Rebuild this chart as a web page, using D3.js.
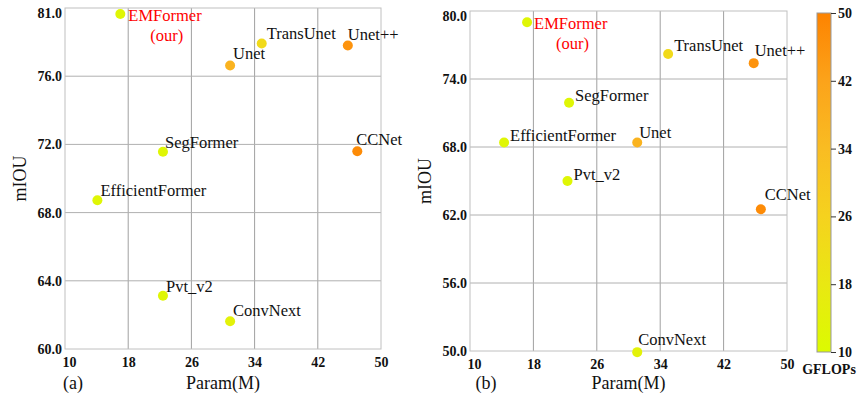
<!DOCTYPE html>
<html><head><meta charset="utf-8">
<script src="https://cdn.jsdelivr.net/npm/d3@7"></script>
<style>body{margin:0;background:#fff}svg{display:block}text{font-family:"Liberation Serif","Times New Roman",serif}</style>
</head><body><svg id="c" width="859" height="401"></svg>
<script>
const models = ["EMFormer","TransUnet","Unet++","Unet","SegFormer","CCNet","EfficientFormer","Pvt_v2","ConvNext"];
const gflops = [12, 23, 46, 37, 12, 48, 12, 12, 14];
const paramsA = [17.0, 34.9, 45.8, 30.9, 22.4, 47.0, 14.1, 22.4, 30.9];
const miouA   = [79.65, 77.92, 77.8, 76.63, 71.57, 71.6, 68.72, 63.12, 61.63];
const paramsB = [17.2, 35.0, 45.8, 31.1, 22.5, 46.7, 14.3, 22.3, 31.1];
const miouB   = [79.0, 76.2, 75.4, 68.4, 71.9, 62.5, 68.4, 65.0, 49.9];
const xTicks = [10, 18, 26, 34, 42, 50];
const yTicksA = [60, 64, 68, 72, 76, 80];
const yTickLabelsA = ["60.0","64.0","68.0","72.0","76.0","81.0"];
const yTicksB = [50, 56, 62, 68, 74, 80];
const yTickLabelsB = ["50.0","56.0","62.0","68.0","74.0","80.0"];
const cbTicks = [10, 18, 26, 34, 42, 50];
const cbStops = [10, 18, 26, 34, 42, 50];
const cbColors = ["#dcfb00","#e9e812","#f5d21e","#f9bc22","#fca31a","#fd8300"];

// label offsets (annotation placement, px)
const offA = [[8,7],[5,-4],[0,-6],[3,-6],[2,-4],[-1,-6],[3,-4],[3,-4],[3,-5]];
const offB = [[7,7],[6,-3],[1,-7],[2,-4],[6,-2],[4,-9],[6,-1],[6,-1],[1,-7]];

const svg = d3.select("#c");
const color = d3.scaleLinear().domain(cbStops).range(cbColors);

function panel(opt){
  const g = svg.append("g");
  const x = d3.scaleLinear().domain([10,50]).range([opt.x0, opt.x1]);
  const y = d3.scaleLinear().domain(opt.ydom).range([opt.y1, opt.y0]);
  g.selectAll(".gx").data(xTicks.slice(1,-1)).enter().append("line")
    .attr("x1",d=>x(d)).attr("x2",d=>x(d)).attr("y1",opt.y0).attr("y2",opt.y1)
    .attr("stroke","#a0a0a0").attr("stroke-width",1);
  g.selectAll(".gy").data(opt.yticks.slice(1,-1)).enter().append("line")
    .attr("x1",opt.x0).attr("x2",opt.x1).attr("y1",d=>y(d)).attr("y2",d=>y(d))
    .attr("stroke","#b0b0b0").attr("stroke-width",1);
  g.append("rect").attr("x",opt.x0).attr("y",opt.y0).attr("width",opt.x1-opt.x0).attr("height",opt.y1-opt.y0)
    .attr("fill","none").attr("stroke","#c0c0c0").attr("stroke-width",1);
  const xa = g.append("g").attr("transform",`translate(0,${opt.y1})`)
    .call(d3.axisBottom(x).tickValues(xTicks).tickSize(0).tickPadding(8).tickFormat(d3.format("d")));
  xa.select(".domain").remove();
  xa.selectAll("text").attr("font-size",14).attr("font-weight","bold").attr("fill","#111")
    .attr("font-family","Liberation Serif").attr("dx",(d,i)=>i===0?4:0);
  const ya = g.append("g").attr("transform",`translate(${opt.x0},0)`)
    .call(d3.axisLeft(y).tickValues(opt.yticks).tickSize(0).tickPadding(3).tickFormat((d,i)=>opt.ylabels[i]));
  ya.select(".domain").remove();
  ya.selectAll("text").attr("font-size",14).attr("font-weight","bold").attr("fill","#111")
    .attr("font-family","Liberation Serif").attr("dy",(d,i)=>i===opt.yticks.length-1?"0.65em":"0.32em");
  g.append("text").attr("x",(opt.x0+opt.x1)/2).attr("y",389).attr("text-anchor","middle")
    .attr("font-size",18).attr("fill","#111").text("Param(M)");
  g.append("text").attr("x",opt.tagX).attr("y",389).attr("text-anchor","middle")
    .attr("font-size",18).attr("fill","#111").text(opt.tag);
  g.append("text").attr("transform",`translate(${opt.x0-39},${(opt.y0+opt.y1)/2}) rotate(-90)`)
    .attr("text-anchor","middle").attr("font-size",18).attr("fill","#111").text("mIOU");
  const data = models.map((m,i)=>({m, px:opt.px[i], py:opt.py[i], gf:gflops[i], off:opt.off[i]}));
  g.selectAll("circle").data(data).enter().append("circle")
    .attr("cx",d=>x(d.px)).attr("cy",d=>y(d.py)).attr("r",5)
    .attr("fill",d=>color(d.gf));
  g.selectAll(".lbl").data(data).enter().append("text")
    .attr("x",d=>x(d.px)+d.off[0]).attr("y",d=>y(d.py)+d.off[1])
    .attr("font-size",16.5).attr("fill",d=>d.m==="EMFormer"?"#ff0000":"#111").text(d=>d.m);
  const em = data[0];
  const emW = 75;
  g.append("text").attr("x",x(em.px)+em.off[0]+emW/2+1).attr("y",y(em.py)+em.off[1]+20)
    .attr("text-anchor","middle").attr("font-size",16.5).attr("fill","#ff0000").text("(our)");
}

panel({x0:65,x1:381,y0:8,y1:349,ydom:[60,80],yticks:yTicksA,ylabels:yTickLabelsA,px:paramsA,py:miouA,off:offA,tag:"(a)",tagX:73});
panel({x0:470,x1:787,y0:11,y1:351,ydom:[50,80],yticks:yTicksB,ylabels:yTickLabelsB,px:paramsB,py:miouB,off:offB,tag:"(b)",tagX:486});

const cb = {x0:817,x1:831,y0:13,y1:352};
const defs = svg.append("defs");
const lg = defs.append("linearGradient").attr("id","cbg").attr("x1",0).attr("y1",1).attr("x2",0).attr("y2",0);
cbStops.forEach((s,i)=>lg.append("stop").attr("offset",(s-10)/40).attr("stop-color",cbColors[i]));
svg.append("rect").attr("x",cb.x0).attr("y",cb.y0).attr("width",cb.x1-cb.x0).attr("height",cb.y1-cb.y0)
  .attr("fill","url(#cbg)").attr("stroke","#999").attr("stroke-width",1);
const cy = d3.scaleLinear().domain([10,50]).range([cb.y1,cb.y0]);
const ca = svg.append("g").attr("transform",`translate(${cb.x1},0)`)
  .call(d3.axisRight(cy).tickValues(cbTicks).tickSize(5).tickPadding(2).tickFormat(d3.format("d")));
ca.select(".domain").remove();
ca.selectAll("line").attr("stroke","#333");
ca.selectAll("text").attr("font-size",14).attr("font-weight","bold").attr("fill","#111").attr("font-family","Liberation Serif");
svg.append("text").attr("x",829).attr("y",374).attr("text-anchor","middle").attr("font-size",14)
  .attr("font-weight","bold").attr("fill","#111").text("GFLOPs");
</script></body></html>
